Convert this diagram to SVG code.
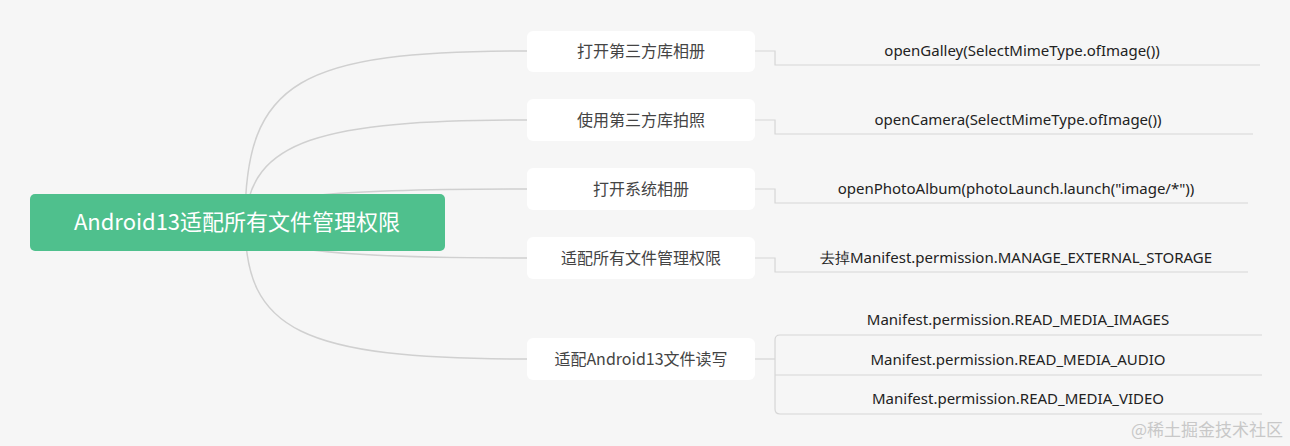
<svg xmlns="http://www.w3.org/2000/svg" width="1290" height="446" viewBox="0 0 1290 446">
<style>
.c{fill:none;stroke:#d0d0d0;stroke-width:1.5}
.l{fill:none;stroke:#d6d6d6;stroke-width:1.2}
.b{fill:#fff}
.t{font-family:"Noto Sans CJK SC","Liberation Sans",sans-serif;font-size:16px;fill:#444;text-anchor:middle}
.s{font-family:"Noto Sans","Liberation Sans",sans-serif;font-size:15px;fill:#222;text-anchor:middle}
</style>
<rect width="1290" height="446" fill="#f6f6f6"/>
<g id="connectors">
<path class="c" d="M245,222 C245,80 300,51 527,51"/>
<path class="c" d="M245,222 C250,140 320,120 527,120"/>
<path class="c" d="M245,222 C255,195 330,189 527,189"/>
<path class="c" d="M245,222 C255,250 330,258 527,258"/>
<path class="c" d="M245,222 C245,330 300,359 527,359"/>
<path class="l" d="M755,51 H775 V65 H1260"/>
<path class="l" d="M755,120 H775 V134 H1253"/>
<path class="l" d="M755,189 H775 V203 H1248"/>
<path class="l" d="M755,258 H775 V272 H1248"/>
<path class="l" d="M755,359 H775"/>
<path class="l" d="M1262,335 H780 Q775,335 775,340 V409 Q775,414 780,414 H1262"/>
<path class="l" d="M775,375 H1262"/>
</g>
<g id="root"><rect x="30" y="194" width="415" height="57" rx="5" fill="#4fc08d"/>
<text x="237" y="230" font-family="'Noto Sans CJK SC','Liberation Sans',sans-serif" font-size="22" fill="#fff" text-anchor="middle">Android13适配所有文件管理权限</text></g>
<g id="n1"><rect class="b" x="527" y="31" width="228" height="41" rx="6"/><text class="t" x="641" y="57">打开第三方库相册</text></g>
<g id="n2"><rect class="b" x="527" y="99" width="228" height="42" rx="6"/><text class="t" x="641" y="126">使用第三方库拍照</text></g>
<g id="n3"><rect class="b" x="527" y="168" width="228" height="42" rx="6"/><text class="t" x="641" y="195">打开系统相册</text></g>
<g id="n4"><rect class="b" x="527" y="237" width="228" height="42" rx="6"/><text class="t" x="641" y="264">适配所有文件管理权限</text></g>
<g id="n5"><rect class="b" x="527" y="338" width="228" height="42" rx="6"/><text class="t" x="641" y="365">适配Android13文件读写</text></g>
<g id="leaf1"><text class="s" x="1022" y="56">openGalley(SelectMimeType.ofImage())</text></g>
<g id="leaf2"><text class="s" x="1018" y="125">openCamera(SelectMimeType.ofImage())</text></g>
<g id="leaf3"><text class="s" x="1016" y="194">openPhotoAlbum(photoLaunch.launch("image/*"))</text></g>
<g id="leaf4"><text class="s" x="1016" y="263">去掉Manifest.permission.MANAGE_EXTERNAL_STORAGE</text></g>
<g id="leaf5"><text class="s" x="1018" y="325">Manifest.permission.READ_MEDIA_IMAGES</text></g>
<g id="leaf6"><text class="s" x="1018" y="365">Manifest.permission.READ_MEDIA_AUDIO</text></g>
<g id="leaf7"><text class="s" x="1018" y="404">Manifest.permission.READ_MEDIA_VIDEO</text></g>
<text x="1283" y="436" font-family="'Noto Sans CJK SC',sans-serif" font-size="17" fill="#c8c8c8" text-anchor="end">@稀土掘金技术社区</text>
</svg>
